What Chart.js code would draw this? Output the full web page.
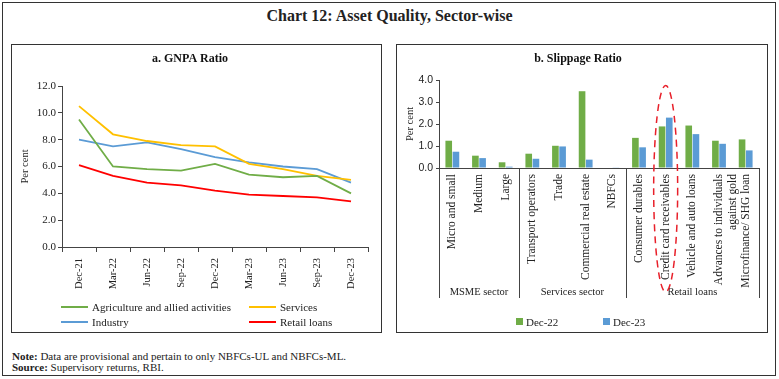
<!DOCTYPE html>
<html>
<head>
<meta charset="utf-8">
<script src="https://cdn.jsdelivr.net/npm/chart.js@4"></script>
<style>
  body { margin: 0; background: #fff; font-family: "Liberation Serif", serif; color: #222; }
  #frame { position: absolute; left: 2px; top: 2px; width: 772px; height: 372px; border: 1px solid #333; }
  #title { position: absolute; left: 0; top: 7px; width: 779px; text-align: center; font-size: 16px; font-weight: bold; }
  .panel { position: absolute; top: 44px; height: 287px; border: 1px solid #333; }
  #pa { left: 11px; width: 369px; }
  #pb { left: 396px; width: 370px; }
  .panel canvas { position: absolute; left: 0; top: 0; }
  .lg { position: absolute; font-size: 11px; line-height: 12px; white-space: nowrap; }
  .lg i { position: absolute; }
  #note { position: absolute; left: 12px; top: 351px; font-size: 11px; line-height: 10.5px; }
</style>
</head>
<body>
<div id="frame"></div>
<div id="title">Chart 12: Asset Quality, Sector-wise</div>
<div class="panel" id="pa"><canvas id="gnpa" width="369" height="287"></canvas></div>
<div class="panel" id="pb"><canvas id="slip" width="370" height="287"></canvas></div>
<div id="legA"></div>
<div id="legB"></div>
<div id="note"><b>Note:</b> Data are provisional and pertain to only NBFCs-UL and NBFCs-ML.<br><b>Source:</b> Supervisory returns, RBI.</div>
<script>
// a. GNPA ratio (per cent)
const quarters = ['Dec-21', 'Mar-22', 'Jun-22', 'Sep-22', 'Dec-22', 'Mar-23', 'Jun-23', 'Sep-23', 'Dec-23'];
const agriculture = [9.5, 6.0, 5.8, 5.7, 6.2, 5.4, 5.2, 5.3, 4.0];
const services = [10.5, 8.4, 7.9, 7.6, 7.5, 6.2, 5.8, 5.3, 5.0];
const industry = [8.0, 7.5, 7.8, 7.3, 6.7, 6.3, 6.0, 5.8, 4.8];
const retail = [6.1, 5.3, 4.8, 4.6, 4.2, 3.9, 3.8, 3.7, 3.4];

// b. Slippage ratio (per cent)
const sectors = ['Micro and small', 'Medium', 'Large', 'Transport operators', 'Trade',
  'Commercial real estate', 'NBFCs', 'Consumer durables', 'Credit card receivables',
  'Vehicle and auto loans', ['Advances to individuals', 'against gold'], 'Microfinance/ SHG loan'];
const slipDec22 = [1.24, 0.56, 0.26, 0.65, 1.01, 3.49, 0.0, 1.37, 1.89, 1.93, 1.24, 1.30];
const slipDec23 = [0.74, 0.45, 0.06, 0.42, 0.98, 0.38, 0.03, 0.94, 2.29, 1.54, 1.10, 0.80];
const groupNames = ['MSME sector', 'Services sector', 'Retail loans'];
const groupSizes = [3, 4, 5];
const highlight = 8; // credit card receivables

const GREEN = '#70ad47', BLUE = '#5b9bd5', YELLOW = '#ffc000', RED = '#ff0000';
const serif = 'Liberation Serif';
const axisCol = '#444';

function line(label, data, color) {
  return { label, data, borderColor: color, backgroundColor: color, borderWidth: 1.8, pointRadius: 0, tension: 0 };
}

const gnpaSets = [
  line('Agriculture and allied activities', agriculture, GREEN),
  line('Services', services, YELLOW),
  line('Industry', industry, BLUE),
  line('Retail loans', retail, RED)
];

new Chart(document.getElementById('gnpa'), {
  type: 'line',
  data: { labels: quarters, datasets: gnpaSets },
  options: {
    responsive: false,
    animation: false,
    layout: { padding: { left: 0, right: 13, top: 0, bottom: 40 } },
    plugins: {
      legend: { display: false },
      tooltip: { enabled: false },
      title: {
        display: true, text: 'a. GNPA Ratio', color: '#111',
        font: { family: serif, size: 12, weight: 'bold' },
        padding: { top: 7, bottom: 19.6 }
      }
    },
    scales: {
      x: {
        offset: true,
        grid: { offset: true, drawOnChartArea: false, tickLength: 5, color: axisCol },
        border: { color: axisCol },
        ticks: { minRotation: 90, maxRotation: 90, autoSkip: false, padding: 6, color: '#222', font: { family: serif, size: 10.5 } },
        afterFit(s) { s.height = 45; }
      },
      y: {
        min: 0, max: 12,
        grid: { drawOnChartArea: false, tickLength: 4, color: axisCol },
        border: { color: axisCol },
        ticks: { stepSize: 2, padding: 2, color: '#222', font: { family: serif, size: 11 }, callback: v => v.toFixed(1) },
        title: { display: true, text: 'Per cent', color: '#222', font: { family: serif, size: 10.5 }, padding: { top: 7, bottom: 0 } },
        afterFit(s) { s.width = 50; }
      }
    }
  }
});

// group separators, group names and the dashed ring round one category
const groupPlugin = {
  id: 'groups',
  afterDraw(chart) {
    const { ctx, scales: { x, y } } = chart;
    const half = (x.getPixelForValue(1) - x.getPixelForValue(0)) / 2;
    const edge = i => i === 0 ? x.getPixelForValue(0) - half : x.getPixelForValue(i - 1) + half;
    ctx.save();
    ctx.strokeStyle = axisCol;
    ctx.lineWidth = 1;
    ctx.fillStyle = '#222';
    ctx.font = '10.5px "' + serif + '"';
    ctx.textAlign = 'center';
    ctx.textBaseline = 'middle';
    let start = 0;
    const bottom = x.bottom;
    [0].concat(groupSizes).forEach(n => {
      start += n;
      const px = Math.round(edge(start)) + 0.5;
      ctx.beginPath();
      ctx.moveTo(px, y.bottom);
      ctx.lineTo(px, bottom);
      ctx.stroke();
    });
    start = 0;
    groupNames.forEach((g, k) => {
      const a = edge(start), b = edge(start + groupSizes[k]);
      ctx.fillText(g, (a + b) / 2, bottom - 6);
      start += groupSizes[k];
    });
    const cx = x.getPixelForValue(highlight);
    const top = y.getPixelForValue(3.75);
    const bot = bottom - 6;
    ctx.strokeStyle = '#e8202a';
    ctx.lineWidth = 1.5;
    ctx.setLineDash([7, 5]);
    ctx.beginPath();
    ctx.ellipse(cx, (top + bot) / 2, 12, (bot - top) / 2, 0, 0, Math.PI * 2);
    ctx.stroke();
    ctx.restore();
  }
};

const slipSets = [
  { label: 'Dec-22', data: slipDec22, backgroundColor: GREEN, categoryPercentage: 0.54, barPercentage: 0.92 },
  { label: 'Dec-23', data: slipDec23, backgroundColor: BLUE, categoryPercentage: 0.54, barPercentage: 0.92 }
];

new Chart(document.getElementById('slip'), {
  type: 'bar',
  data: { labels: sectors, datasets: slipSets },
  plugins: [groupPlugin],
  options: {
    responsive: false,
    animation: false,
    layout: { padding: { left: 0, right: 8, top: 0, bottom: 34 } },
    plugins: {
      legend: { display: false },
      tooltip: { enabled: false },
      title: {
        display: true, text: 'b. Slippage Ratio', color: '#111',
        font: { family: serif, size: 12, weight: 'bold' },
        padding: { top: 7, bottom: 13.6 }
      }
    },
    scales: {
      x: {
        grid: { display: true, drawOnChartArea: false, drawTicks: false },
        border: { color: axisCol },
        ticks: { minRotation: 90, maxRotation: 90, autoSkip: false, padding: 6, color: '#222', font: { family: serif, size: 11.5 } },
        afterFit(s) { s.height = 130; }
      },
      y: {
        min: 0, max: 4,
        grid: { drawOnChartArea: false, tickLength: 3, color: axisCol },
        border: { color: axisCol },
        ticks: { stepSize: 0.5, padding: 3, color: '#222', font: { family: 'Liberation Sans', size: 10.5 }, callback: v => v.toFixed(1) },
        title: { display: true, text: 'Per cent', color: '#222', font: { family: serif, size: 10.5 }, padding: { top: 7, bottom: 0 } },
        afterFit(s) { s.width = 42; }
      }
    }
  }
});

// html legends built from the datasets
function legendItem(host, ds, left, top, mark) {
  const d = document.createElement('div');
  d.className = 'lg';
  d.style.left = left + 'px';
  d.style.top = top + 'px';
  const m = document.createElement('i');
  if (mark === 'line') {
    Object.assign(m.style, { left: '-31px', top: '5px', width: '27px', height: '2px', background: ds.borderColor });
  } else {
    Object.assign(m.style, { left: '-10px', top: '2px', width: '7px', height: '7px', background: ds.backgroundColor });
  }
  d.appendChild(m);
  d.appendChild(document.createTextNode(ds.label));
  document.getElementById(host).appendChild(d);
}
legendItem('legA', gnpaSets[0], 92, 301, 'line');
legendItem('legA', gnpaSets[1], 280, 301, 'line');
legendItem('legA', gnpaSets[2], 92, 316, 'line');
legendItem('legA', gnpaSets[3], 280, 316, 'line');
legendItem('legB', slipSets[0], 526, 316, 'box');
legendItem('legB', slipSets[1], 613, 316, 'box');
</script>
</body>
</html>
